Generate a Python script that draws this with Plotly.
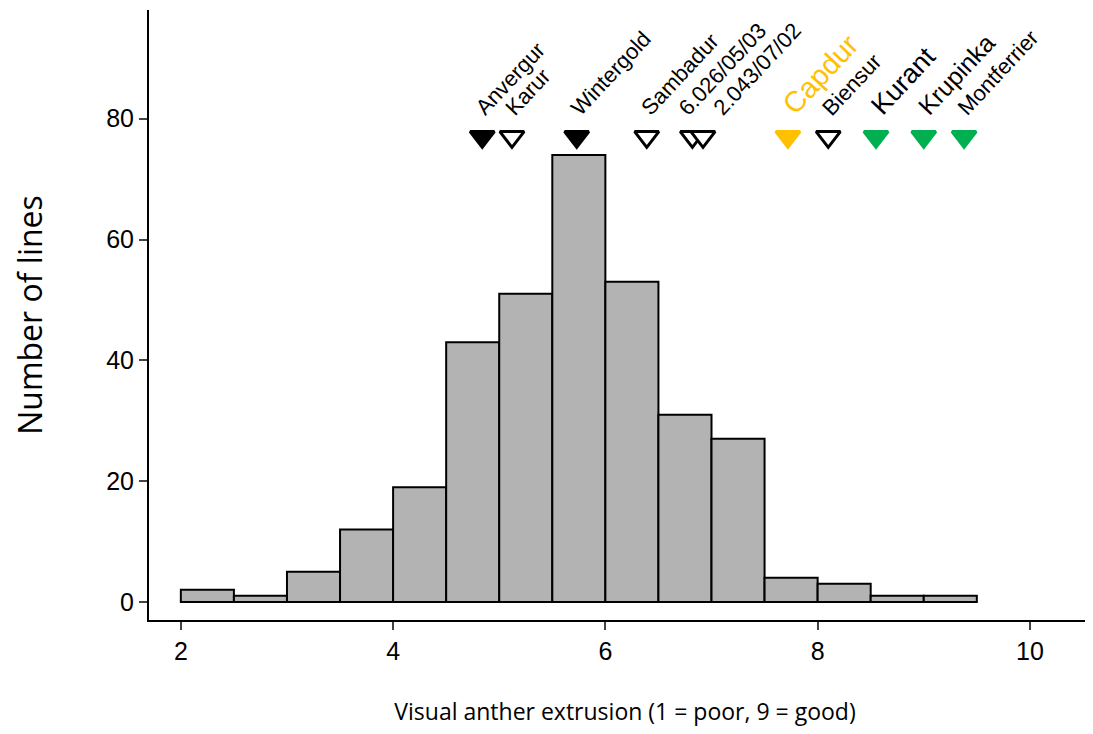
import plotly.graph_objects as go

bin_starts = [2.0, 2.5, 3.0, 3.5, 4.0, 4.5, 5.0, 5.5, 6.0, 6.5, 7.0, 7.5, 8.0, 8.5, 9.0]
counts = [2, 1, 5, 12, 19, 43, 51, 74, 53, 31, 27, 4, 3, 1, 1]

cultivars = ["Anvergur", "Karur", "Wintergold", "Sambadur", "6.026/05/03", "2.043/07/02",
             "Capdur", "Biensur", "Kurant", "Krupinka", "Montferrier"]
cult_x = [4.84, 5.12, 5.73, 6.39, 6.82, 6.92, 7.72, 8.10, 8.55, 9.00, 9.38]
marker_fill = ["black", "white", "black", "white", "white", "white",
               "#FFC000", "white", "#00B050", "#00B050", "#00B050"]
marker_line = ["black", "black", "black", "black", "black", "black",
               "#FFC000", "black", "#00B050", "#00B050", "#00B050"]
label_color = ["black"] * 6 + ["#FFC000", "black", "black", "black", "black"]
label_size = [22, 22, 22, 22, 22, 22, 29, 22, 27, 25, 22]
label_dx = [-14, -14, -14, -14, -22, 2, -14, -14, -14, -14, -14]
marker_y = 77

fig = go.Figure()
fig.add_trace(go.Bar(
    x=[b + 0.25 for b in bin_starts], y=counts, width=0.5,
    marker=dict(color="#B3B3B3", line=dict(color="black", width=2)),
))
fig.add_trace(go.Scatter(
    x=cult_x, y=[marker_y] * len(cult_x), mode="markers",
    marker=dict(symbol="triangle-down", size=21, color=marker_fill,
                line=dict(color=marker_line, width=3)),
))
for name, x, c, s, dx in zip(cultivars, cult_x, label_color, label_size, label_dx):
    fig.add_annotation(x=x, y=marker_y, yshift=14, xshift=dx, text=name, showarrow=False,
                       textangle=-47, xanchor="left", yanchor="bottom",
                       font=dict(family="Arial, Liberation Sans", size=s, color=c))

fig.update_layout(
    width=1093, height=734, showlegend=False,
    plot_bgcolor="white", paper_bgcolor="white",
    margin=dict(l=141, r=0, t=2, b=122),
    font=dict(family="Arial, Liberation Sans", size=25, color="black"),
)
fig.update_xaxes(range=[1.70, 10.67], tickvals=[2, 4, 6, 8, 10], ticks="outside",
                 ticklen=8, tickwidth=2, showline=True, linewidth=2, linecolor="black",
                 showgrid=False, zeroline=False,
                 title=dict(text="Visual anther extrusion (1 = poor, 9 = good)", standoff=40,
                            font=dict(family="Open Sans, Calibri", size=23)))
fig.update_yaxes(range=[-3, 98], tickvals=[0, 20, 40, 60, 80], ticks="outside",
                 ticklen=8, tickwidth=2, showline=True, linewidth=2, linecolor="black",
                 showgrid=False, zeroline=False,
                 title=dict(text="Number of lines", standoff=60,
                            font=dict(family="Open Sans, Calibri", size=32)))

fig.write_html("out.html")
